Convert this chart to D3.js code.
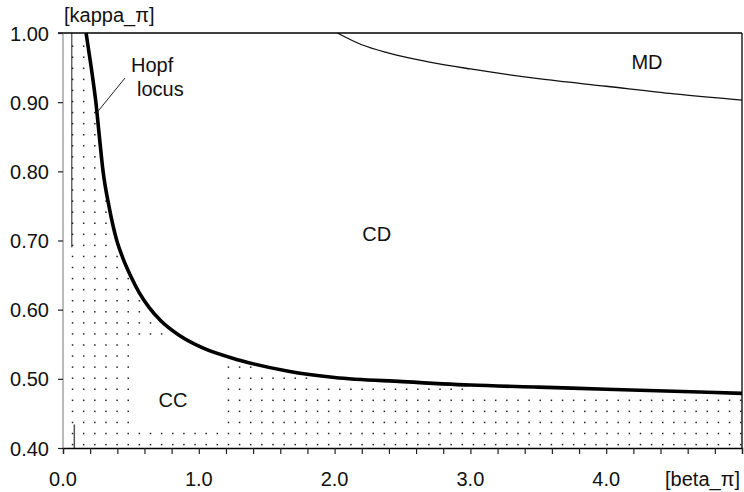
<!DOCTYPE html>
<html>
<head>
<meta charset="utf-8">
<script src="https://cdn.jsdelivr.net/npm/d3@7"></script>
<style>
  body { margin: 0; background: #fff; }
  text { font-family: "Liberation Sans", Arial, sans-serif; fill: #111; }
</style>
</head>
<body>
<svg id="chart"></svg>
<script>
// hopf locus (bold curve)
var hopfBeta  = [0.17, 0.208, 0.242, 0.268, 0.295, 0.338, 0.396, 0.44, 0.50, 0.56, 0.635, 0.72, 0.855, 1.025, 1.3, 1.66, 2.0, 2.5, 3.0, 3.5, 4.0, 4.5, 5.0];
var hopfKappa = [1.00, 0.95, 0.90, 0.85, 0.80, 0.75, 0.70, 0.675, 0.648, 0.625, 0.603, 0.584, 0.563, 0.545, 0.527, 0.511, 0.502, 0.496, 0.491, 0.488, 0.485, 0.482, 0.479];

// MD boundary (thin curve)
var mdBeta  = [2.02, 2.2, 2.4, 2.7, 3.0, 3.5, 4.0, 4.5, 5.0];
var mdKappa = [1.00, 0.983, 0.971, 0.958, 0.948, 0.934, 0.923, 0.912, 0.903];

// vertical boundary at the far left
var leftBeta = 0.065;
var leftTop = 0.69, leftBottom = 0.434;

// dotted grid (CC region)
var dotBeta0 = 0.07, dotBetaStep = 0.082;
var dotKappa0 = 0.405, dotKappaStep = 0.016;

var xTicks = [0, 1, 2, 3, 4];
var yTicks = [0.4, 0.5, 0.6, 0.7, 0.8, 0.9, 1.0];
var regionLabels = [
    {text: "CD", beta: 2.31, kappa: 0.70},
    {text: "CC", beta: 0.81, kappa: 0.459},
    {text: "MD", beta: 4.3, kappa: 0.948}
];

function drawchart(){
    var width = 744,
        height = 492;
    var pl = 63, pr = 742, pt = 33, pb = 448;

    var svg = d3.select("#chart")
        .attr("width", width)
        .attr("height", height);

    var x = d3.scaleLinear().domain([0, 5]).range([pl, pr]);
    var y = d3.scaleLinear().domain([0.4, 1.0]).range([pb, pt]);

    var hopf = hopfBeta.map(function(b, i){ return [b, hopfKappa[i]]; });
    var md = mdBeta.map(function(b, i){ return [b, mdKappa[i]]; });

    var hopfAt = function(b){
        if(b <= hopfBeta[0]) return 1.0;
        for(var i = 1; i < hopfBeta.length; i++){
            if(b <= hopfBeta[i]){
                var t = (b - hopfBeta[i-1]) / (hopfBeta[i] - hopfBeta[i-1]);
                return hopfKappa[i-1] + t * (hopfKappa[i] - hopfKappa[i-1]);
            }
        }
        return hopfKappa[hopfKappa.length-1];
    };

    // white box behind the CC label
    var box = {x0: 134, x1: 222, y0: 340, y1: 428};

    var dots = [];
    for(var b = dotBeta0; x(b) <= pr; b += dotBetaStep){
        for(var k = dotKappa0; k < 1.0; k += dotKappaStep){
            if(k > hopfAt(b) - 0.006) continue;
            var px = x(b), py = y(k);
            if(px > box.x0 && px < box.x1 && py > box.y0 && py < box.y1) continue;
            dots.push([b, k]);
        }
    }

    svg.append("g").selectAll("rect")
        .data(dots)
        .enter().append("rect")
        .attr("x", function(d){ return x(d[0]) - 0.7; })
        .attr("y", function(d){ return y(d[1]) - 0.7; })
        .attr("width", 1.5)
        .attr("height", 1.5)
        .attr("fill", "#222");

    // left boundary line
    svg.append("line")
        .attr("x1", x(leftBeta)).attr("x2", x(leftBeta))
        .attr("y1", y(1.0)).attr("y2", y(leftTop))
        .attr("stroke", "#222").attr("stroke-width", 1);
    svg.append("line")
        .attr("x1", x(leftBeta) + 2.5).attr("x2", x(leftBeta) + 2.5)
        .attr("y1", y(leftBottom)).attr("y2", y(0.4))
        .attr("stroke", "#555").attr("stroke-width", 1.5);

    // frame
    svg.append("line")
        .attr("x1", pl - 5).attr("x2", pr)
        .attr("y1", pt).attr("y2", pt)
        .attr("stroke", "#000").attr("stroke-width", 1.3);
    svg.append("line")
        .attr("x1", pr).attr("x2", pr)
        .attr("y1", pt).attr("y2", pb)
        .attr("stroke", "#000").attr("stroke-width", 1.3);
    svg.append("line")
        .attr("x1", pl).attr("x2", pl)
        .attr("y1", pt).attr("y2", pb)
        .attr("stroke", "#777").attr("stroke-width", 1);

    // axes
    var xAxis = d3.axisBottom(x)
        .tickValues(d3.range(0, 5.01, 0.2))
        .tickSize(6)
        .tickFormat("");
    svg.append("g")
        .attr("transform", "translate(0," + pb + ")")
        .call(xAxis)
        .call(function(g){ g.select(".domain").attr("stroke", "#000").attr("stroke-width", 1.3); })
        .selectAll(".tick line").attr("stroke", "#222").attr("stroke-width", 1.2);

    var yAxis = d3.axisLeft(y)
        .tickValues(yTicks)
        .tickSize(5)
        .tickFormat("");
    svg.append("g")
        .attr("transform", "translate(" + pl + ",0)")
        .call(yAxis)
        .call(function(g){ g.select(".domain").remove(); })
        .selectAll(".tick line").attr("stroke", "#222").attr("stroke-width", 1.2);

    svg.append("g").selectAll("text")
        .data(xTicks)
        .enter().append("text")
        .attr("x", function(d){ return x(d); })
        .attr("y", 486)
        .attr("text-anchor", "middle")
        .attr("font-size", 20)
        .text(function(d){ return d.toFixed(1); });

    svg.append("g").selectAll("text")
        .data(yTicks)
        .enter().append("text")
        .attr("x", 49)
        .attr("y", function(d){ return y(d) + 7.5; })
        .attr("text-anchor", "end")
        .attr("font-size", 20)
        .text(function(d){ return d.toFixed(2); });

    svg.append("text")
        .attr("x", 64).attr("y", 22)
        .attr("font-size", 20)
        .text("[kappa_\u03c0]");
    svg.append("text")
        .attr("x", 740).attr("y", 486)
        .attr("text-anchor", "end")
        .attr("font-size", 20)
        .text("[beta_\u03c0]");

    // curves
    var line = d3.line()
        .x(function(d){ return x(d[0]); })
        .y(function(d){ return y(d[1]); })
        .curve(d3.curveMonotoneX);

    svg.append("path")
        .attr("d", line(md))
        .attr("fill", "none")
        .attr("stroke", "#111")
        .attr("stroke-width", 1.3);

    svg.append("path")
        .attr("d", line(hopf))
        .attr("fill", "none")
        .attr("stroke", "#000")
        .attr("stroke-width", 3.6);

    // labels
    svg.append("g").selectAll("text")
        .data(regionLabels)
        .enter().append("text")
        .attr("x", function(d){ return x(d.beta); })
        .attr("y", function(d){ return y(d.kappa); })
        .attr("text-anchor", "middle")
        .attr("font-size", 20)
        .text(function(d){ return d.text; });

    svg.append("text")
        .attr("x", 131).attr("y", 72)
        .attr("font-size", 20)
        .text("Hopf");
    svg.append("text")
        .attr("x", 137).attr("y", 96)
        .attr("font-size", 20)
        .text("locus");
    svg.append("line")
        .attr("x1", 125).attr("y1", 78)
        .attr("x2", x(0.25)).attr("y2", y(0.885))
        .attr("stroke", "#222").attr("stroke-width", 1);
}

drawchart();
</script>
</body>
</html>
